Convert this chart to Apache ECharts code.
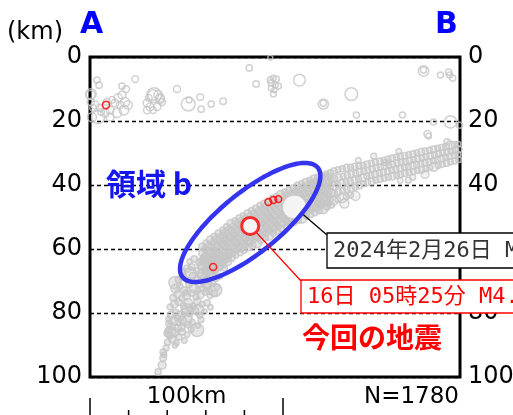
<!DOCTYPE html>
<html>
<head>
<meta charset="utf-8">
<script src="https://cdn.jsdelivr.net/npm/echarts@6/dist/echarts.min.js"></script>
<style>
  html, body { margin: 0; padding: 0; background: #fff; }
  #chart { width: 513px; height: 415px; }
</style>
</head>
<body>
<div id="chart"></div>
<script>
// Hypocentre cross-section A–B: [distance along profile (km), depth (km), magnitude]
const depthTicks = [0, 20, 40, 60, 80, 100];
const profileLengthKm = 191.7;
const scaleBarKm = [0, 20, 40, 60, 80, 100];
const eventCount = 1780;

// shallow crustal events (0–25 km)
const shallowQuakes = [
  [0.5,11.6,3.0],[3.6,7.2,1.6],[4.7,8.8,1.6],[23.4,6.9,1.8],[16.6,9.1,1.6],[18.7,10.0,1.8],
  [33.2,11.9,3.9],[36.3,13.1,2.6],[45.1,10.0,1.9],[50.9,14.7,3.7],[51.4,13.4,1.4],[57.1,12.5,1.8],
  [57.6,16.3,1.6],[62.8,14.7,1.6],[69.0,13.8,1.7],[82.5,3.4,1.6],[86.1,8.4,1.6],
  [93.4,7.2,1.5],[95.0,6.6,1.4],[96.5,6.9,1.5],[93.9,8.1,1.6],[96.0,8.8,1.4],[97.6,9.1,1.5],
  [93.9,9.7,1.4],[95.5,10.3,1.3],[95.0,11.6,1.4],[93.4,0.2,1.0],[108.5,7.2,3.3],
  [120.9,14.7,2.9],[120.9,14.4,1.6],[135.4,11.6,3.5],[138.0,18.1,1.5],[161.9,18.1,1.5],
  [172.8,4.4,3.0],[172.8,4.1,1.6],[181.6,5.6,1.5],[185.8,4.7,1.6],[186.3,5.6,1.5],[187.9,6.6,1.5],
  [178.0,20.3,1.5],[186.8,20.3,3.4],[191.5,21.3,1.5],[174.9,24.1,2.0],[175.4,24.7,1.4],
  [0.3,11.9,2.6],[2.6,15.0,2.2],[5.2,15.9,2.0],[4.2,18.8,3.6],[7.8,17.5,2.4],[10.4,16.6,2.2],
  [13.0,14.4,2.2],[14.5,12.8,2.4],[16.6,11.9,2.2],[18.2,14.1,2.6],[19.7,15.0,2.4],[17.6,16.6,2.8],
  [14.0,17.5,2.6],[10.4,18.8,2.2],[1.0,18.8,2.6],[1.6,15.9,1.8],[11.4,13.4,1.8],[15.6,15.0,2.0],
  [5.7,17.2,1.7],[0.4,14.0,2.0],[8.6,14.0,1.8],
  [32.7,11.9,3.0],[36.3,12.8,2.4],[29.6,14.4,2.2],[31.1,15.6,2.2],[29.6,16.6,2.0],[34.8,15.6,2.0],
  [37.4,14.1,1.8],[32.7,16.6,1.8],[35.3,11.9,2.4],[30.5,12.8,1.8]
];

// deep part of the slab (62–99 km)
const slabDeep = [
  [35.3,98.4,1.5],[37.4,96.3,2.2],[37.9,94.1,1.8],[37.9,92.2,1.6],[39.4,90.9,1.4],[38.4,93.1,1.2],
  [40.2,89.1,1.6],[42.5,88.2,2.0],[44.8,89.4,1.3],[41.3,87.0,1.8],[43.6,86.1,2.4],[46.2,87.5,1.5],
  [48.9,88.6,1.2],[40.6,85.4,1.4],[45.5,84.7,2.0],[47.8,85.9,1.7],[50.3,86.8,1.3],[42.1,84.2,2.2],
  [52.4,85.1,1.4],[39.8,86.5,1.3],[44.0,90.1,1.1],
  [41.0,83.3,1.8],[43.2,82.5,2.6],[45.9,83.0,1.5],[48.1,82.2,2.0],[50.6,83.6,1.6],[53.0,82.8,1.3],
  [55.8,83.9,1.2],[42.0,80.6,2.0],[44.4,79.8,1.6],[46.7,80.9,2.8],[49.2,79.5,1.7],[51.7,80.3,1.4],
  [54.1,79.1,2.2],[56.9,80.7,1.5],[59.3,79.6,1.3],[41.6,78.1,1.5],[43.8,77.2,2.2],[46.0,76.6,1.8],
  [48.5,77.7,1.5],[50.9,76.9,2.5],[53.4,77.9,1.6],[55.6,76.4,1.9],[58.0,77.3,1.4],[60.7,76.8,1.6],
  [62.4,78.2,1.2],[45.1,81.5,1.3],[57.5,82.1,1.4],[47.4,84.5,1.9],[52.1,78.7,1.2],[40.8,81.9,1.4],
  [43.1,75.2,1.7],[45.3,74.1,2.0],[47.6,75.4,1.5],[50.0,74.6,2.3],[52.6,73.8,1.6],[54.9,75.0,1.4],
  [57.3,74.2,2.1],[59.8,73.5,1.5],[62.2,74.7,1.3],[64.5,73.9,1.6],[44.2,72.4,2.5],[46.5,71.6,1.6],
  [48.8,72.9,1.8],[51.3,71.2,1.5],[53.8,72.1,2.8],[56.2,71.0,1.7],[58.6,72.3,1.4],[61.0,71.5,2.0],
  [63.6,70.8,1.5],[65.8,71.9,1.3],[45.8,69.5,1.6],[48.2,68.7,2.0],[50.7,69.9,1.4],[53.1,68.4,1.8],
  [55.5,69.3,1.5],[57.9,68.6,2.4],[60.4,69.6,1.6],[62.9,68.2,1.4],[65.2,69.1,1.9],[67.4,68.5,1.3],
  [49.5,73.6,1.2],[55.9,73.1,1.3],[61.6,73.0,1.8],
  [48.0,67.2,1.5],[50.4,66.1,2.0],[52.8,65.6,1.6],[55.2,66.8,1.4],[57.6,65.2,2.2],[60.0,66.3,1.5],
  [62.5,65.0,1.8],[64.9,66.5,1.4],[67.3,65.4,1.6],[69.8,66.0,1.3],[51.6,63.9,1.3],[54.0,63.1,1.7],
  [56.4,64.2,1.5],[58.8,62.8,1.4],[61.2,63.7,2.0],[63.7,62.5,1.6],[66.1,63.5,1.5],[68.5,62.4,1.8],
  [70.9,63.2,1.4],[72.3,62.0,1.2],
  [44.0,70.5,3.4],[56.0,79.0,3.2],[49.5,82.0,3.6],[60.5,71.0,3.0],[52.0,67.5,3.3],
  [64.9,72.8,3.6],[55.5,85.3,3.6],[50.3,79.0,3.4],[41.5,86.0,3.2]
];

// slab segment under the highlighted region (km 58–125)
const slabMiddle = [
  [58.0,59.2,1.6],[58.4,61.3,2.2],[57.7,63.6,1.4],[58.2,65.7,1.9],[57.9,67.8,2.6],[58.5,70.1,1.5],
  [60.1,58.1,1.4],[60.5,60.4,1.8],[59.9,62.7,2.4],[60.3,64.6,1.5],[60.0,66.9,1.7],[60.6,68.8,1.3],
  [62.2,57.0,1.9],[62.6,59.3,1.5],[62.0,61.4,1.6],[62.5,63.8,2.8],[62.1,65.6,1.4],[62.7,67.9,2.0],
  [64.4,56.0,1.5],[64.8,58.1,2.0],[64.2,60.5,1.4],[64.6,62.4,1.7],[64.3,64.8,2.3],[64.9,66.7,1.5],
  [66.5,55.1,1.7],[66.9,57.2,1.4],[66.3,59.6,2.5],[66.8,61.5,1.6],[66.4,63.7,1.3],[66.9,65.8,1.9],
  [68.7,54.0,1.4],[69.1,56.3,2.1],[68.5,58.4,1.6],[68.9,60.6,1.8],[68.6,62.6,2.7],[69.2,64.9,1.5],
  [70.8,53.1,1.6],[71.2,55.4,1.4],[70.6,57.6,2.0],[71.0,59.5,1.5],[70.7,61.8,1.7],[71.3,63.9,2.4],
  [73.0,52.0,2.2],[73.4,54.2,1.5],[72.8,56.5,1.7],[73.2,58.6,2.9],[72.9,60.7,1.4],[73.5,62.8,1.6],
  [75.1,51.2,1.5],[75.5,53.4,1.8],[74.9,55.6,1.4],[75.3,57.8,2.0],[75.0,59.9,1.6],[75.6,62.0,1.3],
  [77.3,50.3,1.7],[77.7,52.6,1.4],[77.1,54.7,2.3],[77.5,56.9,1.6],[77.2,59.2,1.9],[77.8,61.2,1.5],
  [79.4,49.6,1.4],[79.8,51.7,2.0],[79.2,54.0,1.5],[79.6,56.1,1.7],[79.3,58.3,2.6],[79.9,60.4,1.4],
  [81.6,48.8,1.9],[82.0,51.0,1.5],[81.4,53.1,1.6],[81.8,55.4,1.4],[81.5,57.5,2.1],[82.1,59.6,1.7],
  [83.7,48.0,1.5],[84.1,50.3,1.8],[83.5,52.4,1.4],[83.9,54.6,2.2],[83.6,56.8,1.5],[84.2,58.9,1.9],
  [85.9,47.2,1.6],[86.3,49.4,1.4],[85.7,51.6,2.0],[86.1,53.8,1.5],[85.8,56.0,1.7],[86.4,58.1,2.8],
  [88.0,46.4,1.4],[88.4,48.7,2.1],[87.8,50.9,1.6],[88.2,53.0,1.4],[87.9,55.2,2.0],[88.5,57.3,1.5],
  [90.2,45.8,1.8],[90.6,48.0,1.5],[90.0,50.2,2.4],[90.4,52.3,1.6],[90.1,54.5,1.4],[90.7,56.6,1.7],
  [92.3,45.1,1.5],[92.7,47.3,1.7],[92.1,49.5,1.4],[92.5,51.6,2.0],[92.2,53.8,1.6],[92.8,55.9,2.5],
  [94.5,44.2,1.7],[94.9,46.5,1.4],[94.3,48.7,1.9],[94.7,50.8,1.5],[94.4,53.0,2.3],[95.0,55.1,1.5],
  [96.6,43.6,1.4],[97.0,45.8,2.0],[96.4,48.0,1.5],[96.8,50.1,1.8],[96.5,52.3,1.4],[97.1,54.4,1.6],
  [98.8,42.9,2.2],[99.2,45.1,1.5],[98.6,47.2,1.7],[99.0,49.4,1.4],[98.7,51.6,2.6],[99.3,53.7,1.5],
  [100.9,42.2,1.5],[101.3,44.4,1.8],[100.7,46.6,1.4],[101.1,48.7,2.0],[100.8,50.9,1.6],[101.4,53.0,1.4],
  [103.1,41.5,1.6],[103.5,43.7,1.4],[102.9,45.9,2.1],[103.3,48.0,1.5],[103.0,50.2,1.9],[103.6,52.3,1.5],
  [105.2,40.9,1.4],[105.6,43.1,1.7],[105.0,45.3,1.5],[105.4,47.4,2.4],[105.1,49.6,1.4],[105.7,51.7,1.8],
  [107.4,40.2,1.9],[107.8,42.4,1.5],[107.2,44.6,1.6],[107.6,46.7,1.4],[107.3,48.9,2.2],[107.9,51.0,1.6],
  [109.5,39.6,1.5],[109.9,41.8,2.0],[109.3,44.0,1.4],[109.7,46.1,1.7],[109.4,48.3,1.5],[110.0,50.4,2.7],
  [111.7,39.0,1.7],[112.1,41.2,1.4],[111.5,43.4,2.3],[111.9,45.5,1.5],[111.6,47.7,1.8],[112.2,49.8,1.4],
  [113.8,38.5,1.4],[114.2,40.6,1.9],[113.6,42.8,1.5],[114.0,45.0,1.6],[113.7,47.1,2.1],[114.3,49.2,1.5],
  [116.0,38.0,2.0],[116.4,40.1,1.5],[115.8,42.3,1.7],[116.2,44.5,1.4],[115.9,46.6,2.5],[116.5,48.6,1.6],
  [118.1,37.5,1.5],[118.5,39.6,1.8],[117.9,41.8,1.4],[118.3,43.9,2.0],[118.0,46.0,1.6],[118.6,47.9,1.9],
  [120.3,37.0,1.6],[120.7,39.1,1.4],[120.1,41.3,2.2],[120.5,43.4,1.5],[120.2,45.5,1.7],[120.8,47.4,2.9],
  [122.4,36.6,1.4],[122.8,38.7,2.0],[122.2,40.8,1.5],[122.6,42.9,1.8],[122.3,45.0,1.4],[122.9,46.8,1.6],
  [124.6,36.2,1.8],[125.0,38.3,1.5],[124.4,40.4,1.6],[124.8,42.5,2.3],[124.5,44.5,1.5],[125.1,46.3,1.4],
  [59.1,60.0,1.3],[59.3,62.4,1.6],[58.9,64.3,1.5],[59.2,66.5,1.3],[59.0,68.9,1.8],
  [61.2,59.0,1.5],[61.4,61.1,1.3],[61.0,63.2,1.9],[61.3,65.4,1.4],[61.1,67.6,1.3],
  [63.4,57.9,1.3],[63.6,60.0,1.7],[63.2,62.1,1.4],[63.5,64.2,1.5],[63.3,66.4,2.2],
  [65.5,56.8,1.6],[65.7,58.9,1.3],[65.3,61.0,1.5],[65.6,63.1,2.0],[65.4,65.3,1.4],
  [67.7,55.8,1.3],[67.9,57.9,1.5],[67.5,60.0,1.3],[67.8,62.1,1.6],[67.6,64.3,1.4],
  [69.8,54.9,1.8],[70.0,57.0,1.4],[69.6,59.1,1.6],[69.9,61.2,1.3],[69.7,63.4,1.5],
  [72.0,53.8,1.4],[72.2,55.9,1.6],[71.8,58.0,1.3],[72.1,60.1,2.0],[71.9,62.2,1.4],
  [74.1,52.9,1.5],[74.3,55.0,1.3],[73.9,57.1,1.8],[74.2,59.2,1.4],[74.0,61.3,1.6],
  [76.3,52.0,1.3],[76.5,54.1,1.9],[76.1,56.2,1.4],[76.4,58.3,1.5],[76.2,60.4,1.3],
  [78.4,51.2,1.6],[78.6,53.3,1.3],[78.2,55.4,1.5],[78.5,57.5,1.4],[78.3,59.6,2.1],
  [80.6,50.4,1.4],[80.8,52.5,1.5],[80.4,54.6,1.3],[80.7,56.7,1.8],[80.5,58.8,1.4],
  [82.7,49.6,1.3],[82.9,51.7,1.4],[82.5,53.8,1.6],[82.8,55.9,1.3],[82.6,58.0,1.5],
  [84.9,48.8,1.7],[85.1,50.9,1.3],[84.7,53.0,1.4],[85.0,55.1,1.6],[84.8,57.2,1.3],
  [87.0,48.1,1.4],[87.2,50.2,1.6],[86.8,52.3,1.3],[87.1,54.4,1.5],[86.9,56.5,1.4],
  [89.2,47.4,1.3],[89.4,49.5,1.5],[89.0,51.6,1.4],[89.3,53.7,1.7],[89.1,55.8,1.3],
  [91.3,46.6,1.5],[91.5,48.7,1.3],[91.1,50.8,1.6],[91.4,52.9,1.4],[91.2,55.0,1.5],
  [93.5,45.9,1.4],[93.7,48.0,1.6],[93.3,50.1,1.3],[93.6,52.2,1.5],[93.4,54.3,1.4],
  [95.6,45.2,1.3],[95.8,47.3,1.4],[95.4,49.4,1.7],[95.7,51.5,1.3],[95.5,53.6,1.6],
  [97.8,44.5,1.6],[98.0,46.6,1.3],[97.6,48.7,1.5],[97.9,50.8,1.4],[97.7,52.9,1.3],
  [99.9,43.8,1.3],[100.1,45.9,1.5],[99.7,48.0,1.4],[100.0,50.1,1.6],[99.8,52.2,1.4],
  [102.1,43.1,1.5],[102.3,45.2,1.3],[101.9,47.3,1.6],[102.2,49.4,1.4],[102.0,51.5,1.5],
  [104.2,42.4,1.4],[104.4,44.5,1.6],[104.0,46.6,1.3],[104.3,48.7,1.5],[104.1,50.8,1.3],
  [106.4,41.8,1.3],[106.6,43.9,1.4],[106.2,46.0,1.5],[106.5,48.1,1.3],[106.3,50.2,1.6],
  [108.5,41.1,1.6],[108.7,43.2,1.3],[108.3,45.3,1.4],[108.6,47.4,1.5],[108.4,49.5,1.3],
  [110.7,40.5,1.4],[110.9,42.6,1.5],[110.5,44.7,1.3],[110.8,46.8,1.6],[110.6,48.9,1.4],
  [112.8,39.9,1.3],[113.0,42.0,1.6],[112.6,44.1,1.4],[112.9,46.2,1.3],[112.7,48.3,1.5],
  [115.0,39.3,1.5],[115.2,41.4,1.3],[114.8,43.5,1.5],[115.1,45.6,1.4],[114.9,47.7,1.3],
  [117.1,38.8,1.4],[117.3,40.9,1.5],[116.9,43.0,1.3],[117.2,45.1,1.6],[117.0,47.2,1.4],
  [119.3,38.2,1.3],[119.5,40.3,1.4],[119.1,42.4,1.6],[119.4,44.5,1.3],[119.2,46.6,1.5],
  [121.4,37.7,1.6],[121.6,39.8,1.3],[121.2,41.9,1.4],[121.5,44.0,1.5],[121.3,46.1,1.3],
  [123.6,37.2,1.4],[123.8,39.3,1.6],[123.4,41.4,1.3],[123.7,43.5,1.4],[123.5,45.6,1.5]
];

// shallower slab segment toward B (km 126–191)
const slabUpper = [
  [126.4,35.6,1.6],[126.8,37.9,1.4],[126.2,40.3,2.0],[126.6,42.6,1.5],[126.3,45.0,2.4],
  [128.5,35.2,1.4],[128.9,37.6,1.8],[128.3,39.9,1.5],[128.7,42.3,1.7],[128.4,44.6,1.4],
  [130.7,34.9,1.5],[131.1,37.2,1.4],[130.5,39.5,2.1],[130.9,41.8,1.5],[130.6,44.0,2.8],
  [132.9,34.6,1.8],[133.3,36.9,1.5],[132.7,39.1,1.4],[133.1,41.4,1.6],[132.8,43.6,1.5],
  [135.0,34.4,1.4],[135.4,36.6,1.6],[134.8,38.8,1.5],[135.2,41.0,1.9],[135.0,43.2,1.4],
  [137.2,34.2,1.6],[137.6,36.3,1.4],[137.0,38.4,1.7],[137.4,40.6,1.5],[137.5,43.4,2.6],
  [139.3,34.0,1.5],[139.7,36.0,1.8],[139.1,38.1,1.4],[139.5,40.2,1.6],
  [141.5,33.8,1.4],[141.9,35.8,1.5],[141.3,37.7,2.2],[141.7,39.6,1.4],
  [143.6,33.5,1.7],[144.0,35.4,1.4],[143.4,37.3,1.5],[143.8,39.2,1.6],
  [145.8,33.2,1.4],[146.2,35.1,1.6],[145.6,37.0,1.4],[146.0,38.9,1.8],
  [147.9,32.8,1.5],[148.3,34.7,1.4],[147.7,36.6,1.9],[148.1,38.5,1.4],
  [150.1,32.5,1.6],[150.5,34.4,1.5],[149.9,36.3,1.4],[150.3,38.2,1.5],
  [152.2,32.2,1.4],[152.6,34.1,2.0],[152.0,36.0,1.5],[152.4,37.9,1.4],
  [154.4,31.9,1.5],[154.8,33.8,1.4],[154.2,35.7,1.6],[154.6,37.6,1.5],
  [156.5,31.6,1.7],[156.9,33.5,1.5],[156.3,35.4,1.4],[156.7,37.3,2.1],
  [158.7,31.3,1.4],[159.1,33.2,1.6],[158.5,35.1,1.5],[158.9,37.0,1.4],
  [160.8,31.0,1.5],[161.2,32.9,1.4],[160.6,34.8,1.8],[161.0,36.7,1.5],[160.7,38.6,1.3],
  [163.0,30.8,1.6],[163.4,32.7,1.5],[162.8,34.5,1.4],[163.2,36.4,1.6],
  [165.1,30.5,1.4],[165.5,32.4,1.7],[164.9,34.2,1.5],[165.3,36.1,1.4],
  [167.3,30.2,1.5],[167.7,32.1,1.4],[167.1,33.9,2.0],[167.5,35.8,1.5],[167.2,37.6,1.4],
  [169.4,29.9,1.4],[169.8,31.8,1.6],[169.2,33.6,1.5],[169.6,35.5,1.4],
  [171.6,29.6,1.8],[172.0,31.5,1.4],[171.4,33.3,1.5],[171.8,35.2,1.7],
  [173.7,29.4,1.5],[174.1,31.2,1.4],[173.5,33.0,1.6],[173.9,34.9,1.4],[173.6,36.7,2.2],
  [175.9,29.1,1.4],[176.3,30.9,1.7],[175.7,32.7,1.5],[176.1,34.6,1.4],
  [178.0,28.8,1.6],[178.4,30.6,1.4],[177.8,32.4,1.5],[178.2,34.3,2.5],
  [180.2,28.5,1.4],[180.6,30.3,1.5],[180.0,32.0,1.6],[180.4,33.9,1.4],
  [182.3,28.3,1.5],[182.7,30.0,1.4],[182.1,31.7,2.0],[182.5,33.5,1.5],
  [184.5,28.0,1.7],[184.9,29.8,1.5],[184.3,31.4,1.4],[184.7,33.2,1.6],
  [186.6,27.6,2.4],[187.0,29.4,1.4],[186.4,31.0,1.5],[186.8,32.8,1.4],
  [188.8,27.4,1.5],[189.2,29.1,1.6],[188.6,30.7,1.4],[189.0,32.5,1.5],
  [190.7,27.2,1.4],[191.0,28.9,1.8],[190.6,30.4,1.5],[190.9,32.1,1.4],
  [153.2,33.0,1.5],[147.0,31.0,1.4],[139.0,32.3,1.3],[131.8,45.8,2.6],[165.0,38.5,1.4],
  [185.0,26.5,1.5],[160.0,29.5,1.3]
];

// earlier events of the current sequence
const recentQuakes = [[8.3,15.0,2.0],[92.4,45.3,1.8],[95.0,44.7,1.8],[97.6,44.4,1.8],[63.8,65.6,1.9]];
// 2024-02-26 event
const pastMainQuake = [[105.9,46.9,5.2]];
// this event
const currentQuake = [[83.0,52.8,4.3]];

// circle diameter (px) for a magnitude
const sizeOf = m => 5 * Math.pow(1.45, m - 1);
const NUM_FONT = 'DejaVu Sans';
const JP_FONT = '"Noto Sans CJK JP"';
const MONO_FONT = '"DejaVu Sans Mono", "Noto Sans CJK JP"';
const GRAY = '#c6c6c6';

const chart = echarts.init(document.getElementById('chart'), null, { renderer: 'canvas' });

const depthAxis = (pos) => ({
  type: 'value', inverse: true, min: depthTicks[0], max: depthTicks[depthTicks.length - 1],
  interval: depthTicks[1] - depthTicks[0], position: pos,
  axisLine: { show: false }, axisTick: { show: false },
  axisLabel: { fontSize: 24, fontFamily: NUM_FONT, color: '#000', margin: 8 },
  splitLine: { show: pos === 'left', lineStyle: { color: '#000', width: 1.4, type: [4, 3] } }
});

const hypoSeries = (data, fillAlpha, z) => ({
  type: 'scatter', z, data,
  symbol: 'circle', symbolSize: v => sizeOf(v[2]),
  itemStyle: { color: 'rgba(198,198,198,' + fillAlpha + ')', borderColor: GRAY, borderWidth: 1.5 },
  emphasis: { disabled: true }
});

chart.setOption({
  animation: false,
  backgroundColor: '#fff',
  grid: { left: 90, top: 57, width: 370, height: 320, show: true, borderColor: '#000', borderWidth: 3,
          backgroundColor: 'transparent', outerBoundsMode: 'none' },
  xAxis: { type: 'value', min: 0, max: profileLengthKm, show: false },
  yAxis: [depthAxis('left'), depthAxis('right')],
  series: [
    hypoSeries(shallowQuakes, 0, 2),
    hypoSeries([].concat(slabDeep, slabMiddle), 0.55, 2),
    hypoSeries(slabUpper, 0.3, 2),
    {
      type: 'scatter', z: 3, data: pastMainQuake,
      symbol: 'circle', symbolSize: v => sizeOf(v[2]),
      itemStyle: { color: '#fff', borderColor: '#c8c8c8', borderWidth: 1.2 },
      emphasis: { disabled: true }
    },
    {
      type: 'scatter', z: 4, data: recentQuakes,
      symbol: 'circle', symbolSize: v => sizeOf(v[2]),
      itemStyle: { color: 'rgba(255,255,255,0)', borderColor: '#ff0000', borderWidth: 1.6 },
      emphasis: { disabled: true }
    },
    {
      type: 'scatter', z: 5, data: currentQuake,
      symbol: 'circle', symbolSize: v => sizeOf(v[2]),
      itemStyle: { color: '#fff', borderColor: '#ff0000', borderWidth: 3 },
      emphasis: { disabled: true }
    }
  ]
});

const toPx = p => chart.convertToPixel({ gridIndex: 0 }, p);

// highlighted region: rotated ellipse around the slab
const regionCenter = toPx([83.0, 51.7]);
const ellipsePts = [];
const semiMajor = 87, semiMinor = 30, tilt = 39 * Math.PI / 180;
for (let i = 0; i <= 120; i++) {
  const t = i / 120 * Math.PI * 2;
  const u = semiMajor * Math.cos(t), w = semiMinor * Math.sin(t);
  ellipsePts.push([
    regionCenter[0] + u * Math.cos(tilt) + w * Math.sin(tilt),
    regionCenter[1] - u * Math.sin(tilt) + w * Math.cos(tilt)
  ]);
}

// leader lines start at the circle edge
const pastPx = toPx(pastMainQuake[0].slice(0, 2));
const curPx = toPx(currentQuake[0].slice(0, 2));
const edgeToward = (c, r, target) => {
  const dx = target[0] - c[0], dy = target[1] - c[1], d = Math.hypot(dx, dy);
  return [c[0] + dx / d * r, c[1] + dy / d * r];
};
const box1 = { x: 327, y: 233, w: 260, h: 35 };
const box2 = { x: 301, y: 280, w: 260, h: 33 };
const pastStart = edgeToward(pastPx, sizeOf(pastMainQuake[0][2]) / 2, [box1.x, box1.y + 2]);
const curStart = edgeToward(curPx, sizeOf(currentQuake[0][2]) / 2 + 1, [box2.x, box2.y]);

// distance scale bar under the section
const scaleEls = scaleBarKm.map((km, i) => {
  const x = toPx([km, 100])[0];
  const tall = (i === 0 || i === scaleBarKm.length - 1);
  return { type: 'line', z: 10, shape: { x1: x, y1: tall ? 398 : 410, x2: x, y2: 416 },
           style: { stroke: '#000', lineWidth: 1.5 } };
});
const scaleMid = toPx([(scaleBarKm[0] + scaleBarKm[scaleBarKm.length - 1]) / 2, 100])[0];

const txt = (x, y, text, font, fill, align) => ({
  type: 'text', z: 20, x, y,
  style: { text, font, fill, align: align || 'left', verticalAlign: 'middle' }
});

chart.setOption({
  graphic: [
    { type: 'polygon', z: 6, shape: { points: ellipsePts },
      style: { fill: 'none', stroke: '#3535f0', lineWidth: 4.5 } },
    { type: 'polyline', z: 6, shape: { points: [pastStart, [box1.x, box1.y + 2]] },
      style: { stroke: '#000', lineWidth: 1.3, fill: 'none' } },
    { type: 'polyline', z: 6, shape: { points: [curStart, [box2.x, box2.y + 1]] },
      style: { stroke: '#ff0000', lineWidth: 1.3, fill: 'none' } },
    { type: 'rect', z: 15, shape: { x: box1.x, y: box1.y, width: box1.w, height: box1.h },
      style: { fill: '#fff', stroke: '#000', lineWidth: 1.3 } },
    txt(box1.x + 6, box1.y + box1.h / 2 + 1, '2024年2月26日 M5.2', '22px ' + MONO_FONT, '#333'),
    { type: 'rect', z: 15, shape: { x: box2.x, y: box2.y, width: box2.w, height: box2.h },
      style: { fill: '#fff', stroke: '#ff0000', lineWidth: 1.3 } },
    txt(box2.x + 6, box2.y + box2.h / 2 + 1, '16日 05時25分 M4.3', '22px ' + MONO_FONT, '#ff0000'),
    txt(7, 33, '(km)', '24px ' + NUM_FONT, '#000'),
    txt(80, 25, 'A', 'bold 30px ' + NUM_FONT, '#0000ff'),
    txt(435, 25, 'B', 'bold 30px ' + NUM_FONT, '#0000ff'),
    txt(106, 184, '領域 b', 'bold 30px ' + JP_FONT, '#1515f0'),
    txt(302, 337, '今回の地震', 'bold 28px ' + JP_FONT, '#ff0000'),
    txt(459, 397, 'N=' + eventCount, '23px ' + NUM_FONT, '#000', 'right'),
    txt(scaleMid, 397, '100km', '23px ' + NUM_FONT, '#000', 'center')
  ].concat(scaleEls)
});
</script>
</body>
</html>
